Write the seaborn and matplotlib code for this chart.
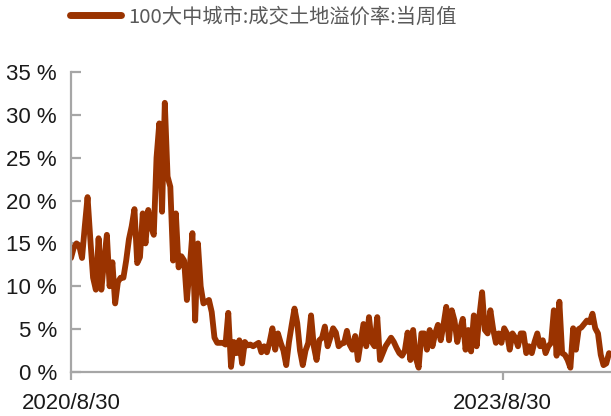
import pandas as pd
import numpy as np
import matplotlib
matplotlib.use('Agg')
import matplotlib.pyplot as plt
import seaborn as sns

# ================================
# 1. DATA (weekly)
# ================================
start_date = '2020-08-30'
premium_rate = [
    13.3, 14.5, 15.0, 14.7, 13.3, 17.0, 20.4, 15.5, 11.0, 9.6,
    15.6, 9.6, 13.0, 16.0, 10.0, 12.8, 8.0, 10.5, 11.0, 11.0,
    13.0, 15.5, 17.0, 19.0, 12.7, 13.4, 18.5, 15.0, 18.9, 17.0,
    16.0, 25.0, 29.0, 18.7, 31.4, 22.8, 21.6, 13.0, 18.5, 12.2,
    13.5, 13.0, 8.4, 12.0, 16.2, 6.0, 15.0, 10.0, 8.0, 8.2,
    8.4, 7.0, 4.0, 3.4, 3.4, 3.4, 3.2, 6.9, 0.6, 3.5,
    2.2, 3.7, 1.0, 3.5, 3.1, 3.2, 3.0, 3.2, 3.4, 2.3,
    3.0, 2.3, 3.5, 5.1, 2.6, 4.5, 3.4, 2.5, 0.8, 3.5,
    5.5, 7.4, 5.7, 2.5, 0.8, 2.5, 3.4, 6.6, 3.0, 1.4,
    3.7, 4.0, 5.3, 3.0, 4.0, 5.1, 4.6, 3.0, 3.3, 3.4,
    4.8, 3.2, 2.6, 4.2, 1.4, 3.5, 5.6, 3.0, 6.4, 3.5,
    3.0, 6.4, 1.4, 2.2, 3.0, 3.5, 4.0, 3.5, 2.8, 2.2,
    1.9, 2.5, 4.6, 1.4, 4.9, 1.6, 0.5, 4.5, 4.5, 2.6,
    4.9, 3.0, 4.5, 5.5, 3.7, 5.5, 7.6, 3.7, 7.2, 6.0,
    3.5, 5.0, 6.2, 2.6, 4.9, 2.4, 6.6, 3.0, 6.5, 9.3,
    4.9, 4.5, 7.2, 5.0, 3.4, 4.5, 3.4, 5.1, 4.5, 2.6,
    4.5, 4.0, 3.0, 4.5, 4.5, 2.2, 3.0, 2.2, 3.5, 4.5,
    3.0, 3.7, 2.2, 3.0, 3.4, 7.2, 1.9, 8.2, 2.2, 2.0,
    1.4, 0.5, 5.1, 2.6, 5.0, 5.2, 5.6, 6.0, 5.8, 6.8,
    5.1, 4.5, 2.0, 0.8, 1.0, 2.2,
]
series_name = '100大中城市:成交土地溢价率:当周值'
y_ticks = [0, 5, 10, 15, 20, 25, 30, 35]
x_tick_dates = ['2020-08-30', '2023-08-30']
x_tick_labels = ['2020/8/30', '2023/8/30']

df = pd.DataFrame({
    'date': pd.date_range(start_date, periods=len(premium_rate), freq='7D'),
    'value': premium_rate,
})

# ================================
# 2. PLOT
# ================================
sns.set_style('white')
plt.rcParams['font.family'] = ['Liberation Sans', 'DejaVu Sans']

fig = plt.figure(figsize=(6.11, 4.16), dpi=100)
ax = fig.add_axes([0.1162, 0.1058, 0.8838, 0.7212])

line_color = '#9A3300'
sns.lineplot(data=df, x='date', y='value', ax=ax, color=line_color,
             linewidth=4.2, label=series_name, legend=False)

ax.set_ylim(0, 35)
ax.set_xlim(df['date'].iloc[0], df['date'].iloc[-1] + pd.Timedelta(days=5))
ax.set_yticks(y_ticks)
ax.set_yticklabels([f'{v} %' for v in y_ticks])
ax.set_xticks(pd.to_datetime(x_tick_dates))
ax.set_xticklabels(x_tick_labels)
ax.set_xlabel('')
ax.set_ylabel('')

spine_color = '#A6A6A6'
for side in ['top', 'right']:
    ax.spines[side].set_visible(False)
for side in ['left', 'bottom']:
    ax.spines[side].set_color(spine_color)
    ax.spines[side].set_linewidth(1.6)

ax.tick_params(axis='y', direction='in', length=7, width=1.6, color=spine_color,
               labelsize=16, labelcolor='#1a1a1a', pad=10, left=True)
ax.tick_params(axis='x', direction='out', length=6, width=1.6, color=spine_color,
               labelsize=16, labelcolor='#1a1a1a', pad=9, bottom=True)

handles, labels = ax.get_legend_handles_labels()
leg = fig.legend(handles, labels, loc='center left', bbox_to_anchor=(0.1146, 0.959),
                 frameon=False, borderpad=0, borderaxespad=0,
                 handlelength=2.5, handletextpad=0.35,
                 prop={'family': ['Noto Sans CJK SC', 'DejaVu Sans'], 'size': 14.6})
for txt in leg.get_texts():
    txt.set_color('#595959')
for h in leg.get_lines():
    h.set_linewidth(5)

fig.savefig('out.png', dpi=100)
print("saved out.png")
